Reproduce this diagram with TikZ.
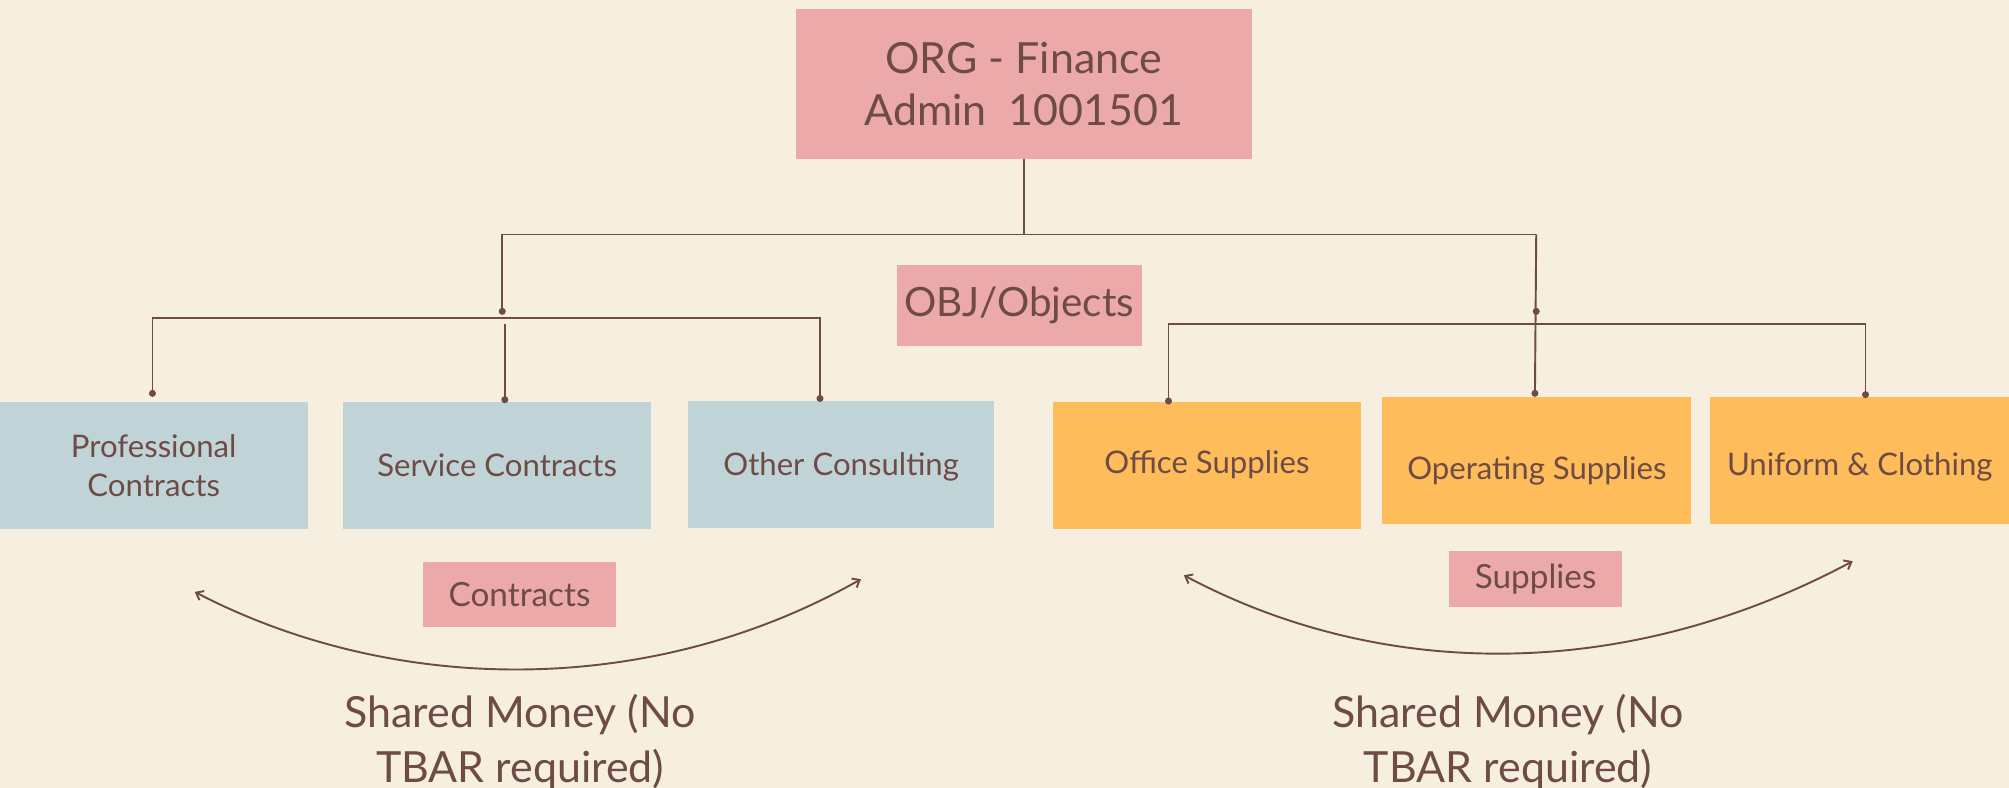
\documentclass[tikz,border=0pt]{standalone}
\usepackage{fontspec}
\setmainfont{Lato}
\usetikzlibrary{arrows.meta}
\definecolor{bg}{HTML}{F6EFE0}
\definecolor{pinkbox}{HTML}{EBAAA9}
\definecolor{bluebox}{HTML}{C0D4D8}
\definecolor{orangebox}{HTML}{FEBC5A}
\definecolor{brown}{HTML}{6E4B45}
\newcommand{\shiftdown}[2]{\raisebox{-#1}[\height][\depth]{#2}}
\tikzset{
  box/.style={inner sep=0pt, outer sep=0pt, text=brown, align=center},
  pinkb/.style={box, fill=pinkbox},
  blueb/.style={box, fill=bluebox, minimum width=240pt, minimum height=99pt, font=\fontsize{24.3}{30}\selectfont},
  orangeb/.style={box, fill=orangebox, minimum height=99pt, font=\fontsize{24.3}{30}\selectfont},
  conn/.style={draw=brown, line width=1.5pt},
  dot/.style={circle, fill=brown, inner sep=0pt, minimum size=5.5pt},
  arc/.style={draw=brown, line width=1.5pt, {Straight Barb[length=5pt,width=8pt]}-{Straight Barb[length=5pt,width=8pt]}},
  big/.style={text=brown, align=center, font=\fontsize{33.5}{43}\selectfont}
}
\begin{document}
\begin{tikzpicture}[x=1pt,y=-1pt]
\useasboundingbox (0,0) rectangle (1568,615);
\fill[bg] (0,0) rectangle (1568,615);

% top box
\node[pinkb, minimum width=356pt, minimum height=117pt, font=\fontsize{33.5}{40}\selectfont] (org) at (799,65.5) {ORG - Finance\\Admin\ \ 1001501};
\node[pinkb, minimum width=191pt, minimum height=63pt, font=\fontsize{31.5}{36}\selectfont] (obj) at (795.5,238.5) {OBJ/Objects};

% blue boxes
\node[blueb] (prof) at (120,363.5) {Professional\\Contracts};
\node[blueb] (serv) at (388,363.5) {Service Contracts};
\node[blueb, minimum width=239pt] (other) at (656.5,362.5) {\shiftdown{2pt}{Other Consulting}};

% orange boxes
\node[orangeb, minimum width=240pt] (office) at (942,363.5) {\shiftdown{-1pt}{Office Supplies}};
\node[orangeb, minimum width=241pt] (oper) at (1199.5,359.5) {\shiftdown{8pt}{Operating Supplies}};
\node[orangeb, minimum width=233pt] (unif) at (1451.5,359.5) {\shiftdown{5pt}{Uniform \& Clothing}};

% label boxes
\node[pinkb, minimum width=151pt, minimum height=50pt, font=\fontsize{26}{30}\selectfont] (contr) at (405.5,464) {Contracts};
\node[pinkb, minimum width=135pt, minimum height=44pt, font=\fontsize{26}{30}\selectfont] (supp) at (1198.5,452) {Supplies};

% coordinates
\coordinate (j0) at (799,183);
\coordinate (jl) at (392,183);
\coordinate (jr) at (1199,183);
\coordinate (dl) at (392,243);
\coordinate (dr) at (1199,243);
\coordinate (hl1) at (119,248);
\coordinate (hl2) at (640,248);
\coordinate (hl3) at (394,253);
\coordinate (hr1) at (912,253);
\coordinate (hr2) at (1456,253);
\coordinate (pl) at (119,307);
\coordinate (sl) at (394,312);
\coordinate (ol) at (640,311);
\coordinate (of) at (912,313);
\coordinate (op) at (1198,307);
\coordinate (un) at (1456,308);

% connectors
\draw[conn] (org.south) -- (j0);
\draw[conn] (jl) -- (jr);
\draw[conn] (jl) -- (dl);
\draw[conn] (jr) -- (op);
\draw[conn] (pl) -- (hl1) -- (hl2) -- (ol);
\draw[conn] (hl3) -- (sl);
\draw[conn] (of) -- (hr1) -- (hr2) -- (un);
\node[dot] at (dl) {};
\node[dot] at (dr) {};
\node[dot] at (pl) {};
\node[dot] at (sl) {};
\node[dot] at (ol) {};
\node[dot] at (of) {};
\node[dot] at (op) {};
\node[dot] at (un) {};

% arcs
\coordinate (a1) at (152,462);
\coordinate (a2) at (672,452);
\coordinate (b1) at (924,449);
\coordinate (b2) at (1446,438);
\draw[arc] (a1) .. controls (310,544) and (510,544) .. (a2);
\draw[arc] (b1) .. controls (1080,532) and (1270,532) .. (b2);

% bottom text
\node[big] (sm1) at (406,579) {Shared Money (No\\TBAR required)};
\node[big] (sm2) at (1177,579) {Shared Money (No\\TBAR required)};
\end{tikzpicture}
\end{document}
